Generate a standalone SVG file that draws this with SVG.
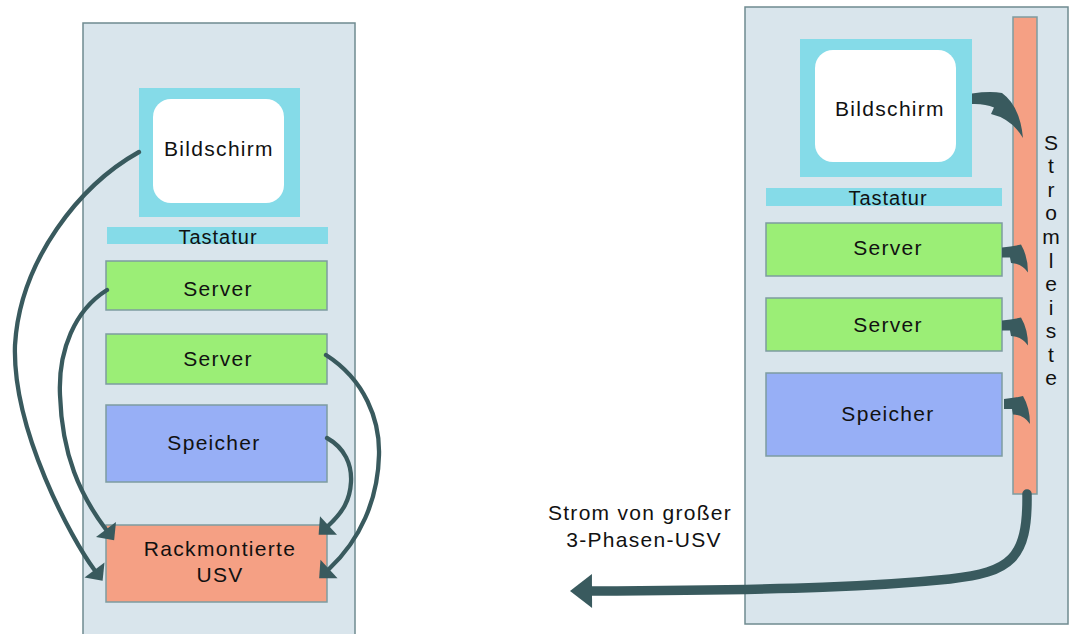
<svg xmlns="http://www.w3.org/2000/svg" xmlns:xlink="http://www.w3.org/1999/xlink" width="1073" height="634" viewBox="0 0 1073 634">
<style>
.rack{fill:#d9e5ec;stroke:#6f8b90;stroke-width:1.5}
.cyan{fill:#85dbe8}
.screen{fill:#ffffff}
.srv{fill:#9bee76;stroke:#7d9ca0;stroke-width:1.5}
.stor{fill:#97aff6;stroke:#7d9ca0;stroke-width:1.5}
.ups{fill:#f5a084;stroke:#7d9ca0;stroke-width:1.5}
.lbl{font-family:"Liberation Sans",Arial,sans-serif;font-size:21px;letter-spacing:1.3px;fill:#111;text-anchor:middle}
.small{font-size:20px;letter-spacing:1px}
.vl{letter-spacing:0}
.thin{fill:none;stroke:#395a5e;stroke-width:4.3;stroke-linecap:round;marker-end:url(#hd)}
.thick{fill:none;stroke:#395a5e;stroke-width:9.5;stroke-linecap:round;marker-end:url(#bighd)}
.blob{fill:#395a5e}
</style>
<defs>
<marker id="hd" markerUnits="userSpaceOnUse" viewBox="-1 -14 17 28" refX="0" refY="0" markerWidth="17" markerHeight="28" orient="auto" overflow="visible">
<path d="M0,-12.5 L13.5,0 L0,12.5 Z" fill="#395a5e"/>
</marker>
<marker id="bighd" markerUnits="userSpaceOnUse" viewBox="-1 -18 25 36" refX="0" refY="0" markerWidth="25" markerHeight="36" orient="auto" overflow="visible">
<path d="M0,-17 L22,0 L0,17 Z" fill="#395a5e"/>
</marker>
<path id="sarrow" class="blob" d="M0,-5 Q11,-6 19,-8 Q26,4 26,20 Q20,11 9,10.5 L8,5 Q4,5 0,5 Z"/>
</defs>

<g id="rack-left">
<rect class="rack" x="83" y="23" width="272" height="625"/>
</g>
<g id="rack-right">
<rect class="rack" x="745" y="7" width="323" height="617"/>
</g>

<g id="monitor-left">
<rect class="cyan" x="139" y="88" width="161" height="129"/>
<rect class="screen" x="153" y="99" width="131" height="104" rx="18"/>
<text class="lbl" x="219" y="156">Bildschirm</text>
</g>
<g id="keyboard-left">
<rect class="cyan" x="107" y="227" width="221" height="17"/>
<text class="lbl small" x="218" y="244">Tastatur</text>
</g>
<g id="server-left-1">
<rect class="srv" x="106" y="261" width="221" height="49"/>
<text class="lbl" x="218" y="296">Server</text>
</g>
<g id="server-left-2">
<rect class="srv" x="106" y="334" width="221" height="50"/>
<text class="lbl" x="218" y="366">Server</text>
</g>
<g id="storage-left">
<rect class="stor" x="106" y="405" width="221" height="77"/>
<text class="lbl" x="214" y="450">Speicher</text>
</g>
<g id="ups-left">
<rect class="ups" x="106" y="525" width="221" height="77"/>
<text class="lbl" x="220" y="556">Rackmontierte</text>
<text class="lbl" x="220" y="582">USV</text>
</g>

<g id="monitor-right">
<rect class="cyan" x="800" y="39" width="172" height="138"/>
<rect class="screen" x="815" y="50" width="141" height="112" rx="18"/>
<text class="lbl" x="890" y="116">Bildschirm</text>
</g>
<g id="keyboard-right">
<rect class="cyan" x="766" y="188" width="236" height="18"/>
<text class="lbl small" x="888" y="205">Tastatur</text>
</g>
<g id="server-right-1">
<rect class="srv" x="766" y="223" width="236" height="53"/>
<text class="lbl" x="888" y="255">Server</text>
</g>
<g id="server-right-2">
<rect class="srv" x="766" y="298" width="236" height="53"/>
<text class="lbl" x="888" y="332">Server</text>
</g>
<g id="storage-right">
<rect class="stor" x="766" y="373" width="236" height="83"/>
<text class="lbl" x="888" y="421">Speicher</text>
</g>
<g id="power-strip">
<rect class="ups" x="1013" y="17" width="24" height="477"/>
<text class="lbl vl" x="1051" y="150">S</text>
<text class="lbl vl" x="1051" y="173">t</text>
<text class="lbl vl" x="1051" y="197">r</text>
<text class="lbl vl" x="1051" y="220">o</text>
<text class="lbl vl" x="1051" y="244">m</text>
<text class="lbl vl" x="1051" y="268">l</text>
<text class="lbl vl" x="1051" y="291">e</text>
<text class="lbl vl" x="1051" y="315">i</text>
<text class="lbl vl" x="1051" y="338">s</text>
<text class="lbl vl" x="1051" y="362">t</text>
<text class="lbl vl" x="1051" y="385">e</text>
</g>

<g id="external-label">
<text class="lbl" x="640" y="520">Strom von großer</text>
<text class="lbl" x="644" y="547">3-Phasen-USV</text>
</g>

<g id="connectors">
<path class="thin" d="M139,152 C80,185 20,260 15,345 C12,430 72,540 94.5,570"/>
<path class="thin" d="M107,290 C75,310 58,350 60,395 C62,455 80,495 106,529.5"/>
<path class="thin" d="M326,355 C365,380 380,420 379,455 C378,500 360,540 329,569"/>
<path class="thin" d="M327,438 C345,448 352,465 351,482 C350,500 343,512 328.5,525.5"/>
<path class="blob" d="M972,93.5 Q990,91 1002,93 Q1020,106 1023,138 Q1012,119 991,114 L994,107.5 Q985,103.5 972,104 Z"/>
<use xlink:href="#sarrow" href="#sarrow" x="1002" y="252.5"/>
<use xlink:href="#sarrow" href="#sarrow" x="1002" y="325.5"/>
<use xlink:href="#sarrow" href="#sarrow" x="1004" y="404"/>
<path class="thick" d="M1027,494 C1028,560 1010,572 950,579 C880,586 800,590 592,591"/>
</g>
</svg>
